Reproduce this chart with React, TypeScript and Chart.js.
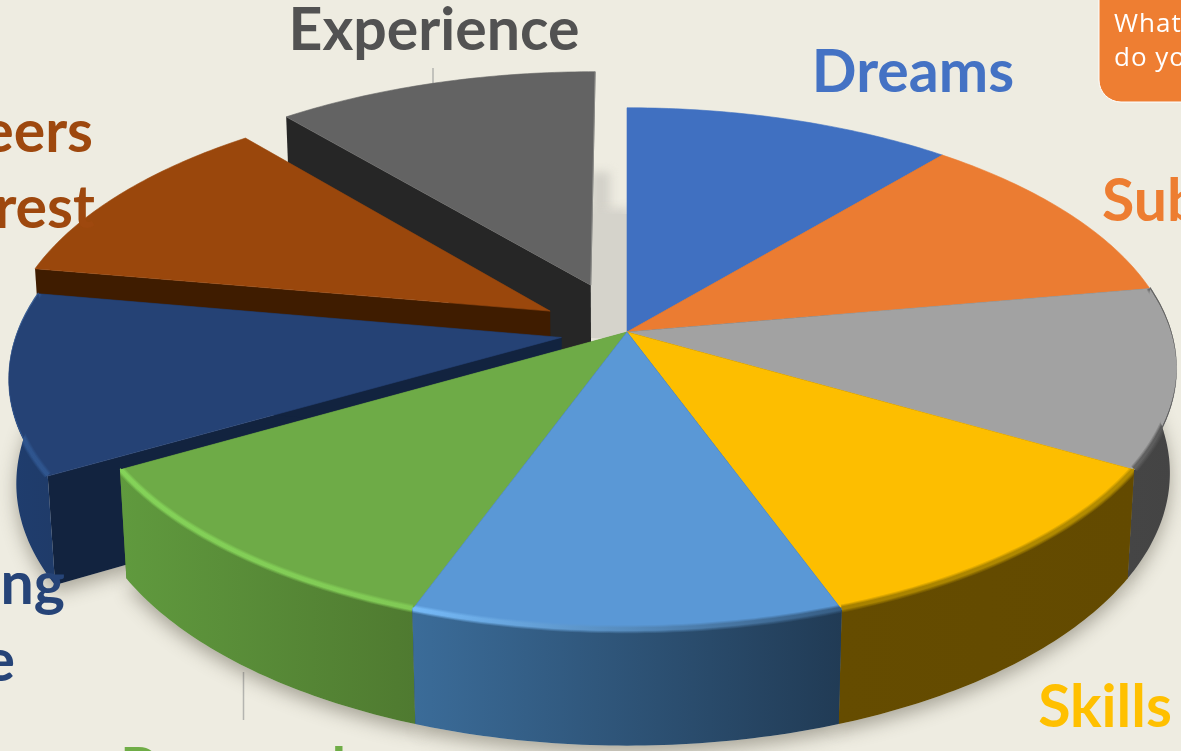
import React, { useEffect, useRef } from "react";
import { Chart, registerables } from "chart.js";

Chart.register(...registerables);

const categories = ["Dreams", "Subjects", "Goals", "Skills", "Abilities", "Personal Values", "Learning Style", "Careers of Interest", "Experience"];
const shares = [11.1, 11.1, 11.1, 11.1, 11.1, 11.1, 11.1, 11.1, 11.1];
const explodeFractions = [0, 0, 0, 0, 0, 0, 0.122, 0.165, 0.2];
const sliceColors = ["#4070C1", "#EB7C32", "#A2A2A2", "#FDBE00", "#5A98D6", "#6EAB47", "#254275", "#9A470C", "#636363"];

const wallColors: [string, string][] = [
  ["#2a4a80", "#2a4a80"], ["#8a4a1e", "#8a4a1e"], ["#454545", "#444444"],
  ["#654C00", "#634A00"], ["#3B6C99", "#213B55"], ["#609A3E", "#4F7A30"],
  ["#1F3D6E", "#1F3B69"], ["#3F1C00", "#3F1C00"], ["#262626", "#262626"],
];
const cutColors = ["#2a4a80", "#8a4a1e", "#444444", "#654C00", "#213B55", "#4F7A30", "#12233F", "#3F1C00", "#262626"];
const rimColors: ([string, string] | null)[] = [
  null, null, ["#5f5f5f", "#505050"], ["#A07C00", "#B08A00"], ["#78BDFB", "#34597E"], ["#86D65A", "#82CC56"], ["#2F5690", "#2F5690"], null, null,
];
const rimPasses = [
  { width: 8, alpha: 0.3 },
  { width: 6, alpha: 0.45 },
  { width: 4, alpha: 0.8 },
];
const paintOrder = [8, 7, 6, 0, 1, 2, 3, 5, 4];

const view = { cx: 627, cy: 332, a: 544, b: 256, k: 0.1417, h: 104, bottomDepth: 0.012 };

const labelFont = "bold 59px Lato";
const textLabels = [
  { text: "Experience", x: 434, y: 50, align: "center", color: "#525252" },
  { text: "Dreams", x: 913, y: 92, align: "center", color: "#4472C4" },
  { text: "Subjects", x: 1102, y: 221, align: "left", color: "#ED7D31" },
  { text: "Skills", x: 1105, y: 727, align: "center", color: "#FFC000" },
  { text: "Personal", x: 120, y: 790, align: "left", color: "#70AD47" },
  { text: "Careers", x: 93, y: 152, align: "right", color: "#9E480E" },
  { text: "of Interest", x: 95, y: 228, align: "right", color: "#9E480E" },
  { text: "Learning", x: 65, y: 604, align: "right", color: "#264478" },
  { text: "Style", x: 15, y: 681, align: "right", color: "#264478" },
];
const calloutLines = ["What", "do you"];

type Pt = { x: number; y: number };

function project(X: number, Y: number, z: number): Pt {
  const s = 1 / (1 + view.k * Y + view.bottomDepth * z);
  return { x: view.cx + view.a * X * s, y: view.cy - view.b * Y * s + view.h * z * s };
}

function arcPoints(t0: number, t1: number, ox: number, oy: number, z: number) {
  const pts: Pt[] = [];
  const n = 48;
  for (let i = 0; i <= n; i++) {
    const t = t0 + ((t1 - t0) * i) / n;
    pts.push(project(ox + Math.sin(t), oy + Math.cos(t), z));
  }
  return pts;
}

function addPoly(path: Path2D, pts: Pt[]) {
  pts.forEach((p, i) => (i ? path.lineTo(p.x, p.y) : path.moveTo(p.x, p.y)));
  path.closePath();
}

function trace(ctx: CanvasRenderingContext2D, pts: Pt[], close = true) {
  ctx.beginPath();
  pts.forEach((p, i) => (i ? ctx.lineTo(p.x, p.y) : ctx.moveTo(p.x, p.y)));
  if (close) ctx.closePath();
}

const pie3d = {
  id: "pie3d",
  beforeDatasetsDraw(chart: any) {
    const ctx: CanvasRenderingContext2D = chart.ctx;
    const arcs = chart.getDatasetMeta(0).data;
    const geo = arcs.map((el: any, i: number) => {
      const t0 = el.startAngle + Math.PI / 2;
      const t1 = el.endAngle + Math.PI / 2;
      const mid = (t0 + t1) / 2;
      const e = explodeFractions[i];
      return { t0, t1, mid, ox: e * Math.sin(mid), oy: e * Math.cos(mid) };
    });

    ctx.save();
    // leader lines
    ctx.strokeStyle = "#b4b4b0";
    ctx.lineWidth = 1.5;
    ctx.beginPath();
    ctx.moveTo(433, 68); ctx.lineTo(433, 84);
    ctx.moveTo(243.5, 672); ctx.lineTo(243.5, 720);
    ctx.stroke();

    // soft ground shadow behind the exploded gap
    ctx.save();
    ctx.filter = "blur(5px)";
    ctx.fillStyle = "#d3d1c9";
    ctx.fillRect(590, 172, 20, 60);
    ctx.fillStyle = "#d5d3cb";
    ctx.fillRect(590, 208, 40, 130);
    ctx.filter = "none";
    ctx.fillRect(590, 214, 40, 124);
    ctx.restore();

    // ground shadow under the base
    ctx.save();
    ctx.shadowColor = "rgba(70,65,50,0.42)";
    ctx.shadowBlur = 18;
    ctx.shadowOffsetY = 7;
    ctx.fillStyle = "#d5d3cb";
    [6, 2, 3, 4, 5].forEach((i) => {
      const g = geo[i];
      trace(ctx, [project(g.ox, g.oy, 1), ...arcPoints(g.t0, g.t1, g.ox, g.oy, 1)]);
      ctx.fill();
    });
    ctx.restore();

    paintOrder.forEach((i) => {
      const g = geo[i];
      const top = arcPoints(g.t0, g.t1, g.ox, g.oy, 0);
      const bottom = arcPoints(g.t0, g.t1, g.ox, g.oy, 1);
      const tipTop = project(g.ox, g.oy, 0);
      const tipBottom = project(g.ox, g.oy, 1);
      const backFacing = Math.cos(g.mid) > 0.4;

      // cut faces
      ctx.fillStyle = cutColors[i];
      trace(ctx, [tipTop, top[0], bottom[0], tipBottom]);
      ctx.fill();

      const xs = top.concat(bottom).map((p) => p.x);
      if (!backFacing) {
        trace(ctx, [tipTop, top[top.length - 1], bottom[bottom.length - 1], tipBottom]);
        ctx.fill();

        // outer wall
        const wall = ctx.createLinearGradient(Math.min(...xs), 0, Math.max(...xs), 0);
        wall.addColorStop(0, wallColors[i][0]);
        wall.addColorStop(1, wallColors[i][1]);
        ctx.fillStyle = wall;
        trace(ctx, [...top, ...bottom.slice().reverse()]);
        ctx.fill();
      }

      // top face
      ctx.fillStyle = sliceColors[i];
      trace(ctx, [tipTop, ...top]);
      ctx.fill();
      ctx.strokeStyle = sliceColors[i];
      ctx.lineWidth = 0.6;
      ctx.stroke();

      // bevel on the rim, kept inside the slice and its wall
      const rim = rimColors[i];
      if (rim) {
        const g2 = ctx.createLinearGradient(Math.min(...xs), 0, Math.max(...xs), 0);
        g2.addColorStop(0, rim[0]);
        g2.addColorStop(1, rim[1]);
        ctx.save();
        const region = new Path2D();
        addPoly(region, [tipTop, ...top]);
        addPoly(region, [...bottom, ...top.slice().reverse().map((p) => ({ x: p.x, y: p.y - 2 }))]);
        ctx.clip(region);
        ctx.strokeStyle = g2;
        ctx.lineJoin = "round";
        rimPasses.forEach((pass) => {
          ctx.globalAlpha = pass.alpha;
          ctx.lineWidth = pass.width;
          trace(ctx, top.map((p) => ({ x: p.x, y: p.y - 1 })), false);
          ctx.stroke();
        });
        ctx.restore();
      }
    });

    // thin light edge on the farthest slice
    const far = geo[8];
    const farTop = arcPoints(far.t0, far.t1, far.ox, far.oy, 0);
    ctx.strokeStyle = "#8b8b88";
    ctx.lineWidth = 1;
    trace(ctx, [project(far.ox, far.oy, 0), farTop[farTop.length - 1]], false);
    ctx.stroke();
    ctx.restore();
    return false;
  },
  afterDraw(chart: any) {
    const ctx: CanvasRenderingContext2D = chart.ctx;
    ctx.save();
    // callout box
    ctx.fillStyle = "#EE7E32";
    ctx.strokeStyle = "#FFFFFF";
    ctx.lineWidth = 1;
    ctx.beginPath();
    ctx.roundRect(1099, -40, 140, 142, 22);
    ctx.fill();
    ctx.stroke();
    ctx.fillStyle = "#FFFFFF";
    ctx.font = "26px 'Open Sans'";
    (ctx as any).letterSpacing = "1px";
    ctx.textAlign = "left";
    ctx.textBaseline = "alphabetic";
    ctx.fillText(calloutLines[0], 1114, 32);
    ctx.fillText(calloutLines[1], 1114, 66);
    (ctx as any).letterSpacing = "0px";
    // category labels
    ctx.font = labelFont;
    textLabels.forEach((l) => {
      ctx.fillStyle = l.color;
      ctx.textAlign = l.align as CanvasTextAlign;
      ctx.fillText(l.text, l.x, l.y);
    });
    ctx.restore();
  },
};

export default function App() {
  const ref = useRef<HTMLCanvasElement>(null);
  useEffect(() => {
    document.body.style.margin = "0";
    document.body.style.background = "#EEECE1";
    const chart = new Chart(ref.current!, {
      type: "pie",
      data: {
        labels: categories,
        datasets: [{ data: shares, backgroundColor: sliceColors }],
      },
      options: {
        animation: false,
        responsive: false,
        maintainAspectRatio: false,
        devicePixelRatio: 1,
        plugins: { legend: { display: false }, tooltip: { enabled: false } },
      },
      plugins: [pie3d],
    } as any);
    return () => chart.destroy();
  }, []);
  return (
    <div style={{ position: "fixed", left: 0, top: 0, width: 1181, height: 751, overflow: "hidden", background: "#EEECE1" }}>
      <canvas ref={ref} width={1181} height={751} style={{ display: "block" }} />
    </div>
  );
}
